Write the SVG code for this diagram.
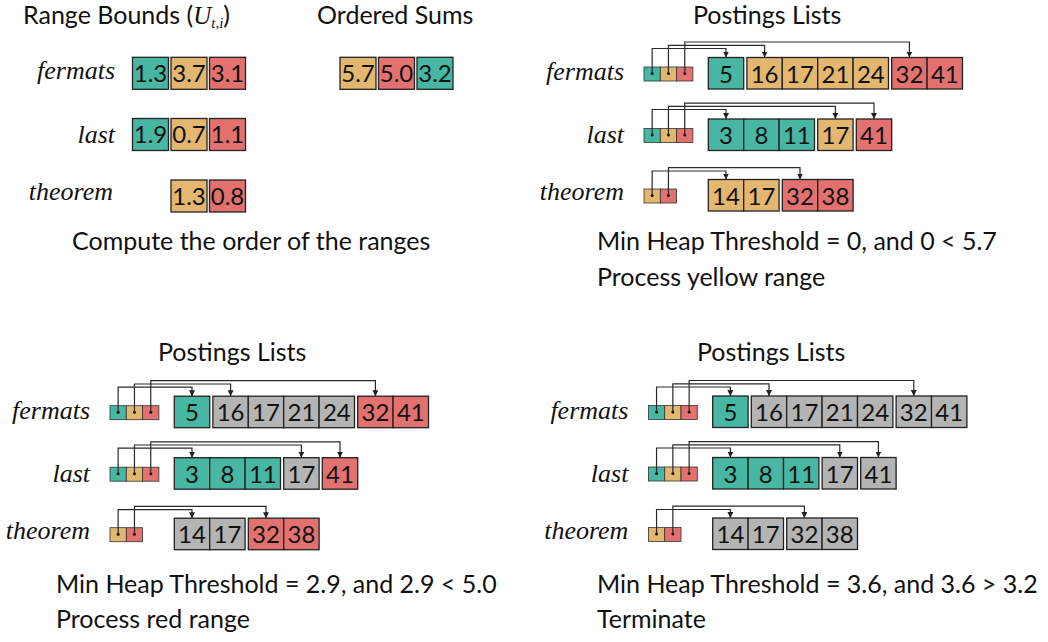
<svg xmlns="http://www.w3.org/2000/svg" width="1048" height="642" viewBox="0 0 1048 642">
<style>
.t{font-family:Lato,"Open Sans",sans-serif;font-size:25px;fill:#111}
.lbl{font-family:"Liberation Serif",serif;font-style:italic;font-size:26px;text-anchor:end;fill:#111}
.num{font-family:Lato,"Open Sans",sans-serif;font-size:24px;text-anchor:middle;fill:#111}
.cell{stroke:#222;stroke-width:1.3}
.ptr{stroke:#333;stroke-width:0.8}
.g{fill:#47B6A3}.y{fill:#E3B76F}.r{fill:#E27170}.k{fill:#B4B4B4}
.dot{fill:#111}
.arr{fill:none;stroke:#2a2a2a;stroke-width:1.2;marker-end:url(#ah)}
</style>
<defs>
<marker id="ah" viewBox="0 0 6 6" refX="6" refY="3" markerWidth="6" markerHeight="6" orient="auto" markerUnits="userSpaceOnUse"><path d="M0,0 L6,3 L0,6 z" fill="#222"/></marker>
</defs>
<rect width="1048" height="642" fill="#fff"/>

<!-- Top-left panel -->
<g id="range-bounds">
<text class="t" x="23" y="24">Range Bounds (<tspan font-family="Liberation Serif" font-style="italic">U</tspan><tspan font-family="Liberation Serif" font-style="italic" font-size="15" dy="4">t,i</tspan><tspan dy="-4">)</tspan></text>
<text class="t" x="317" y="24">Ordered Sums</text>
<g id="rb-fermats">
<text class="lbl" x="115" y="79">fermats</text>
<rect class="cell g" x="132.5" y="57.3" width="36" height="32"/><text class="num" x="150.5" y="82">1.3</text>
<rect class="cell y" x="171" y="57.3" width="36" height="32"/><text class="num" x="189" y="82">3.7</text>
<rect class="cell r" x="209.5" y="57.3" width="36" height="32"/><text class="num" x="227.5" y="82">3.1</text>
</g>
<g id="rb-last">
<text class="lbl" x="115" y="143">last</text>
<rect class="cell g" x="132.5" y="118.5" width="36" height="32"/><text class="num" x="150.5" y="143.2">1.9</text>
<rect class="cell y" x="171" y="118.5" width="36" height="32"/><text class="num" x="189" y="143.2">0.7</text>
<rect class="cell r" x="209.5" y="118.5" width="36" height="32"/><text class="num" x="227.5" y="143.2">1.1</text>
</g>
<g id="rb-theorem">
<text class="lbl" x="113" y="200">theorem</text>
<rect class="cell y" x="171" y="180" width="36" height="32"/><text class="num" x="189" y="204.7">1.3</text>
<rect class="cell r" x="209.5" y="180" width="36" height="32"/><text class="num" x="227.5" y="204.7">0.8</text>
</g>
<g id="ordered-sums">
<rect class="cell y" x="340" y="57.3" width="36" height="32"/><text class="num" x="358" y="82">5.7</text>
<rect class="cell r" x="378.5" y="57.3" width="36" height="32"/><text class="num" x="396.5" y="82">5.0</text>
<rect class="cell g" x="417" y="57.3" width="36" height="32"/><text class="num" x="435" y="82">3.2</text>
</g>
<text class="t" x="72" y="250">Compute the order of the ranges</text>
</g>

<!-- Top-right panel -->
<text class="t" x="693" y="24">Postings Lists</text>
<g id="p1">
<g id="p1-fermats">
<text class="lbl" x="624" y="80">fermats</text>
<rect class="ptr g" x="644" y="67" width="16.3" height="14"/><rect class="ptr y" x="660.3" y="67" width="16.3" height="14"/><rect class="ptr r" x="676.6" y="67" width="16.3" height="14"/>
<circle class="dot" cx="652.15" cy="73.5" r="1.5"/><circle class="dot" cx="668.45" cy="73.5" r="1.5"/><circle class="dot" cx="684.75" cy="73.5" r="1.5"/>
<rect class="cell g" x="708.3" y="57.5" width="35.4" height="31.5"/><text class="num" x="726" y="82.5">5</text>
<rect class="cell y" x="746.9" y="57.5" width="35.4" height="31.5"/><text class="num" x="764.6" y="82.5">16</text>
<rect class="cell y" x="782.3" y="57.5" width="35.4" height="31.5"/><text class="num" x="800" y="82.5">17</text>
<rect class="cell y" x="817.7" y="57.5" width="35.4" height="31.5"/><text class="num" x="835.4" y="82.5">21</text>
<rect class="cell y" x="853.1" y="57.5" width="35.4" height="31.5"/><text class="num" x="870.8" y="82.5">24</text>
<rect class="cell r" x="891.7" y="57.5" width="35.4" height="31.5"/><text class="num" x="909.4" y="82.5">32</text>
<rect class="cell r" x="927.1" y="57.5" width="35.4" height="31.5"/><text class="num" x="944.8" y="82.5">41</text>
</g>
<g id="p1-last">
<text class="lbl" x="624" y="143">last</text>
<rect class="ptr g" x="644" y="128.5" width="16.3" height="14"/><rect class="ptr y" x="660.3" y="128.5" width="16.3" height="14"/><rect class="ptr r" x="676.6" y="128.5" width="16.3" height="14"/>
<circle class="dot" cx="652.15" cy="135" r="1.5"/><circle class="dot" cx="668.45" cy="135" r="1.5"/><circle class="dot" cx="684.75" cy="135" r="1.5"/>
<rect class="cell g" x="708.3" y="119" width="35.4" height="31.5"/><text class="num" x="726" y="144">3</text>
<rect class="cell g" x="743.7" y="119" width="35.4" height="31.5"/><text class="num" x="761.4" y="144">8</text>
<rect class="cell g" x="779.1" y="119" width="35.4" height="31.5"/><text class="num" x="796.8" y="144">11</text>
<rect class="cell y" x="817.7" y="119" width="35.4" height="31.5"/><text class="num" x="835.4" y="144">17</text>
<rect class="cell r" x="856.3" y="119" width="35.4" height="31.5"/><text class="num" x="874" y="144">41</text>
</g>
<g id="p1-theorem">
<text class="lbl" x="624" y="200">theorem</text>
<rect class="ptr y" x="644" y="189" width="16.3" height="14"/><rect class="ptr r" x="660.3" y="189" width="16.3" height="14"/>
<circle class="dot" cx="652.15" cy="195.5" r="1.5"/><circle class="dot" cx="668.45" cy="195.5" r="1.5"/>
<rect class="cell y" x="708.3" y="179.5" width="35.4" height="31.5"/><text class="num" x="726" y="204.5">14</text>
<rect class="cell y" x="743.7" y="179.5" width="35.4" height="31.5"/><text class="num" x="761.4" y="204.5">17</text>
<rect class="cell r" x="782.3" y="179.5" width="35.4" height="31.5"/><text class="num" x="800" y="204.5">32</text>
<rect class="cell r" x="817.7" y="179.5" width="35.4" height="31.5"/><text class="num" x="835.4" y="204.5">38</text>
</g>
<g id="p1-connectors">
<path class="arr" d="M652.15,73.5 V48.5 H726 V57.5"/>
<path class="arr" d="M668.45,73.5 V45.3 H764.6 V57.5"/>
<path class="arr" d="M684.75,73.5 V42 H909.4 V57.5"/>
<path class="arr" d="M652.15,135 V109.5 H726 V119"/>
<path class="arr" d="M668.45,135 V106.3 H835.4 V119"/>
<path class="arr" d="M684.75,135 V103.2 H874 V119"/>
<path class="arr" d="M652.15,195.5 V171 H726 V179.5"/>
<path class="arr" d="M668.45,195.5 V167.7 H800 V179.5"/>
</g>
</g>
<text class="t" x="597" y="250">Min Heap Threshold = 0, and 0 &lt; 5.7</text>
<text class="t" x="597" y="286">Process yellow range</text>

<!-- Bottom-left panel -->
<text class="t" x="158" y="361">Postings Lists</text>
<g id="p2" transform="translate(-534,338.7)">
<g id="p2-fermats">
<text class="lbl" x="624" y="80">fermats</text>
<rect class="ptr g" x="644" y="67" width="16.3" height="14"/><rect class="ptr y" x="660.3" y="67" width="16.3" height="14"/><rect class="ptr r" x="676.6" y="67" width="16.3" height="14"/>
<circle class="dot" cx="652.15" cy="73.5" r="1.5"/><circle class="dot" cx="668.45" cy="73.5" r="1.5"/><circle class="dot" cx="684.75" cy="73.5" r="1.5"/>
<rect class="cell g" x="708.3" y="57.5" width="35.4" height="31.5"/><text class="num" x="726" y="82.5">5</text>
<rect class="cell k" x="746.9" y="57.5" width="35.4" height="31.5"/><text class="num" x="764.6" y="82.5">16</text>
<rect class="cell k" x="782.3" y="57.5" width="35.4" height="31.5"/><text class="num" x="800" y="82.5">17</text>
<rect class="cell k" x="817.7" y="57.5" width="35.4" height="31.5"/><text class="num" x="835.4" y="82.5">21</text>
<rect class="cell k" x="853.1" y="57.5" width="35.4" height="31.5"/><text class="num" x="870.8" y="82.5">24</text>
<rect class="cell r" x="891.7" y="57.5" width="35.4" height="31.5"/><text class="num" x="909.4" y="82.5">32</text>
<rect class="cell r" x="927.1" y="57.5" width="35.4" height="31.5"/><text class="num" x="944.8" y="82.5">41</text>
</g>
<g id="p2-last">
<text class="lbl" x="624" y="143">last</text>
<rect class="ptr g" x="644" y="128.5" width="16.3" height="14"/><rect class="ptr y" x="660.3" y="128.5" width="16.3" height="14"/><rect class="ptr r" x="676.6" y="128.5" width="16.3" height="14"/>
<circle class="dot" cx="652.15" cy="135" r="1.5"/><circle class="dot" cx="668.45" cy="135" r="1.5"/><circle class="dot" cx="684.75" cy="135" r="1.5"/>
<rect class="cell g" x="708.3" y="119" width="35.4" height="31.5"/><text class="num" x="726" y="144">3</text>
<rect class="cell g" x="743.7" y="119" width="35.4" height="31.5"/><text class="num" x="761.4" y="144">8</text>
<rect class="cell g" x="779.1" y="119" width="35.4" height="31.5"/><text class="num" x="796.8" y="144">11</text>
<rect class="cell k" x="817.7" y="119" width="35.4" height="31.5"/><text class="num" x="835.4" y="144">17</text>
<rect class="cell r" x="856.3" y="119" width="35.4" height="31.5"/><text class="num" x="874" y="144">41</text>
</g>
<g id="p2-theorem">
<text class="lbl" x="624" y="200">theorem</text>
<rect class="ptr y" x="644" y="189" width="16.3" height="14"/><rect class="ptr r" x="660.3" y="189" width="16.3" height="14"/>
<circle class="dot" cx="652.15" cy="195.5" r="1.5"/><circle class="dot" cx="668.45" cy="195.5" r="1.5"/>
<rect class="cell k" x="708.3" y="179.5" width="35.4" height="31.5"/><text class="num" x="726" y="204.5">14</text>
<rect class="cell k" x="743.7" y="179.5" width="35.4" height="31.5"/><text class="num" x="761.4" y="204.5">17</text>
<rect class="cell r" x="782.3" y="179.5" width="35.4" height="31.5"/><text class="num" x="800" y="204.5">32</text>
<rect class="cell r" x="817.7" y="179.5" width="35.4" height="31.5"/><text class="num" x="835.4" y="204.5">38</text>
</g>
<g id="p2-connectors">
<path class="arr" d="M652.15,73.5 V48.5 H726 V57.5"/>
<path class="arr" d="M668.45,73.5 V45.3 H764.6 V57.5"/>
<path class="arr" d="M684.75,73.5 V42 H909.4 V57.5"/>
<path class="arr" d="M652.15,135 V109.5 H726 V119"/>
<path class="arr" d="M668.45,135 V106.3 H835.4 V119"/>
<path class="arr" d="M684.75,135 V103.2 H874 V119"/>
<path class="arr" d="M652.15,195.5 V171 H726 V179.5"/>
<path class="arr" d="M668.45,195.5 V167.7 H800 V179.5"/>
</g>
</g>
<text class="t" x="56" y="593">Min Heap Threshold = 2.9, and 2.9 &lt; 5.0</text>
<text class="t" x="56" y="628">Process red range</text>

<!-- Bottom-right panel -->
<text class="t" x="697" y="361">Postings Lists</text>
<g id="p3" transform="translate(4.4,338.5)">
<g id="p3-fermats">
<text class="lbl" x="624" y="80">fermats</text>
<rect class="ptr g" x="644" y="67" width="16.3" height="14"/><rect class="ptr y" x="660.3" y="67" width="16.3" height="14"/><rect class="ptr r" x="676.6" y="67" width="16.3" height="14"/>
<circle class="dot" cx="652.15" cy="73.5" r="1.5"/><circle class="dot" cx="668.45" cy="73.5" r="1.5"/><circle class="dot" cx="684.75" cy="73.5" r="1.5"/>
<rect class="cell g" x="708.3" y="57.5" width="35.4" height="31.5"/><text class="num" x="726" y="82.5">5</text>
<rect class="cell k" x="746.9" y="57.5" width="35.4" height="31.5"/><text class="num" x="764.6" y="82.5">16</text>
<rect class="cell k" x="782.3" y="57.5" width="35.4" height="31.5"/><text class="num" x="800" y="82.5">17</text>
<rect class="cell k" x="817.7" y="57.5" width="35.4" height="31.5"/><text class="num" x="835.4" y="82.5">21</text>
<rect class="cell k" x="853.1" y="57.5" width="35.4" height="31.5"/><text class="num" x="870.8" y="82.5">24</text>
<rect class="cell k" x="891.7" y="57.5" width="35.4" height="31.5"/><text class="num" x="909.4" y="82.5">32</text>
<rect class="cell k" x="927.1" y="57.5" width="35.4" height="31.5"/><text class="num" x="944.8" y="82.5">41</text>
</g>
<g id="p3-last">
<text class="lbl" x="624" y="143">last</text>
<rect class="ptr g" x="644" y="128.5" width="16.3" height="14"/><rect class="ptr y" x="660.3" y="128.5" width="16.3" height="14"/><rect class="ptr r" x="676.6" y="128.5" width="16.3" height="14"/>
<circle class="dot" cx="652.15" cy="135" r="1.5"/><circle class="dot" cx="668.45" cy="135" r="1.5"/><circle class="dot" cx="684.75" cy="135" r="1.5"/>
<rect class="cell g" x="708.3" y="119" width="35.4" height="31.5"/><text class="num" x="726" y="144">3</text>
<rect class="cell g" x="743.7" y="119" width="35.4" height="31.5"/><text class="num" x="761.4" y="144">8</text>
<rect class="cell g" x="779.1" y="119" width="35.4" height="31.5"/><text class="num" x="796.8" y="144">11</text>
<rect class="cell k" x="817.7" y="119" width="35.4" height="31.5"/><text class="num" x="835.4" y="144">17</text>
<rect class="cell k" x="856.3" y="119" width="35.4" height="31.5"/><text class="num" x="874" y="144">41</text>
</g>
<g id="p3-theorem">
<text class="lbl" x="624" y="200">theorem</text>
<rect class="ptr y" x="644" y="189" width="16.3" height="14"/><rect class="ptr r" x="660.3" y="189" width="16.3" height="14"/>
<circle class="dot" cx="652.15" cy="195.5" r="1.5"/><circle class="dot" cx="668.45" cy="195.5" r="1.5"/>
<rect class="cell k" x="708.3" y="179.5" width="35.4" height="31.5"/><text class="num" x="726" y="204.5">14</text>
<rect class="cell k" x="743.7" y="179.5" width="35.4" height="31.5"/><text class="num" x="761.4" y="204.5">17</text>
<rect class="cell k" x="782.3" y="179.5" width="35.4" height="31.5"/><text class="num" x="800" y="204.5">32</text>
<rect class="cell k" x="817.7" y="179.5" width="35.4" height="31.5"/><text class="num" x="835.4" y="204.5">38</text>
</g>
<g id="p3-connectors">
<path class="arr" d="M652.15,73.5 V48.5 H726 V57.5"/>
<path class="arr" d="M668.45,73.5 V45.3 H764.6 V57.5"/>
<path class="arr" d="M684.75,73.5 V42 H909.4 V57.5"/>
<path class="arr" d="M652.15,135 V109.5 H726 V119"/>
<path class="arr" d="M668.45,135 V106.3 H835.4 V119"/>
<path class="arr" d="M684.75,135 V103.2 H874 V119"/>
<path class="arr" d="M652.15,195.5 V171 H726 V179.5"/>
<path class="arr" d="M668.45,195.5 V167.7 H800 V179.5"/>
</g>
</g>
<text class="t" x="597" y="593">Min Heap Threshold = 3.6, and 3.6 &gt; 3.2</text>
<text class="t" x="597" y="628">Terminate</text>
</svg>
